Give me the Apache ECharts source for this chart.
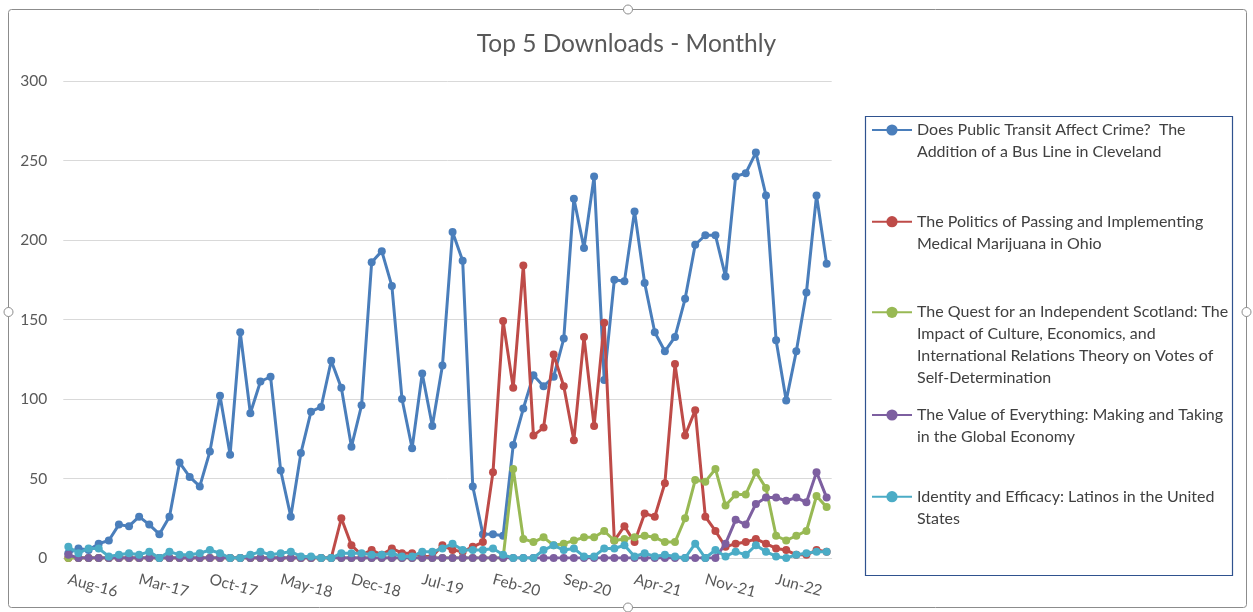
<!DOCTYPE html>
<html>
<head>
<meta charset="utf-8">
<script src="https://cdn.jsdelivr.net/npm/echarts@6/dist/echarts.min.js"></script>
<style>
html,body{margin:0;padding:0;background:#fff;}
#chart{width:1253px;height:612px;}
</style>
</head>
<body>
<div id="chart"></div>
<script>
const categories = [
 "Aug-16","Sep-16","Oct-16","Nov-16","Dec-16",
 "Jan-17","Feb-17","Mar-17","Apr-17","May-17","Jun-17","Jul-17","Aug-17","Sep-17","Oct-17","Nov-17","Dec-17",
 "Jan-18","Feb-18","Mar-18","Apr-18","May-18","Jun-18","Jul-18","Aug-18","Sep-18","Oct-18","Nov-18","Dec-18",
 "Jan-19","Feb-19","Mar-19","Apr-19","May-19","Jun-19","Jul-19","Aug-19","Sep-19","Oct-19","Nov-19","Dec-19",
 "Jan-20","Feb-20","Mar-20","Apr-20","May-20","Jun-20","Jul-20","Aug-20","Sep-20","Oct-20","Nov-20","Dec-20",
 "Jan-21","Feb-21","Mar-21","Apr-21","May-21","Jun-21","Jul-21","Aug-21","Sep-21","Oct-21","Nov-21","Dec-21",
 "Jan-22","Feb-22","Mar-22","Apr-22","May-22","Jun-22","Jul-22","Aug-22","Sep-22","Oct-22","Nov-22"
];

const seriesNames = [
 "Does Public Transit Affect Crime?  The Addition of a Bus Line in Cleveland",
 "The Politics of Passing and Implementing Medical Marijuana in Ohio",
 "The Quest for an Independent Scotland: The Impact of Culture, Economics, and International Relations Theory on Votes of Self-Determination",
 "The Value of Everything: Making and Taking in the Global Economy",
 "Identity and Efficacy: Latinos in the United States"
];

const legendLines = [
 ["Does Public Transit Affect Crime?  The", "Addition of a Bus Line in Cleveland"],
 ["The Politics of Passing and Implementing", "Medical Marijuana in Ohio"],
 ["The Quest for an Independent Scotland: The", "Impact of Culture, Economics, and", "International Relations Theory on Votes of", "Self-Determination"],
 ["The Value of Everything: Making and Taking", "in the Global Economy"],
 ["Identity and Efficacy: Latinos in the United", "States"]
];

const transitData = [3,6,5,9,11,21,20,26,21,15,26,60,51,45,67,102,65,142,91,111,
 114,55,26,66,92,95,124,107,70,96,186,193,171,100,69,116,83,121,205,187,
 45,15,15,14,71,94,115,108,114,138,226,195,240,112,175,174,218,173,142,130,
 139,163,197,203,203,177,240,242,255,228,137,99,130,167,228,185];

const marijuanaData = [0,0,0,0,0,0,0,0,0,0,0,0,0,0,0,0,0,0,0,0,
 0,0,0,0,0,0,0,25,8,2,5,2,6,3,3,1,1,8,5,4,
 7,10,54,149,107,184,77,82,128,108,74,139,83,148,11,20,10,28,26,47,
 122,77,93,26,17,7,9,10,12,9,6,5,2,2,5,4];

const scotlandData = [0,0,0,0,0,0,0,0,0,0,0,0,0,0,0,0,0,0,0,0,
 0,0,0,0,0,0,0,0,0,0,0,0,0,0,0,0,0,0,0,0,
 0,0,0,0,56,12,10,13,8,9,11,13,13,17,11,12,13,14,13,10,
 10,25,49,48,56,33,40,40,54,44,14,11,14,17,39,32];

const valueData = [2,0,0,0,0,0,0,0,0,0,0,0,0,0,0,0,0,0,0,0,
 0,0,0,0,0,0,0,0,0,0,0,0,0,0,0,0,0,0,0,0,
 0,0,0,0,0,0,0,0,0,0,0,0,0,0,0,0,0,0,0,0,
 0,0,0,0,0,9,24,21,34,38,38,36,38,35,54,38];

const latinosData = [7,3,6,6,1,2,3,2,4,0,4,2,2,3,5,3,0,0,2,4,
 2,3,4,1,1,0,0,3,3,3,2,2,3,1,1,4,4,6,9,5,
 5,5,6,2,0,0,0,5,8,5,6,1,1,6,6,8,1,3,1,2,
 1,0,9,0,5,1,4,2,8,4,1,0,2,3,4,4];

const yTicks = [0, 50, 100, 150, 200, 250, 300];

const colors = ["#4A7EBB", "#BE4B48", "#98B954", "#7D5FA0", "#4BACC6"];
const allData = [transitData, marijuanaData, scotlandData, valueData, latinosData];

const FONT = "Lato";
const LH = 21.7;
const legendCenters = [130, 221.7, 312.3, 415, 496.7];

const chart = echarts.init(document.getElementById('chart'), null, {renderer: 'canvas'});

const legends = seriesNames.map((name, k) => {
  const n = legendLines[k].length;
  const blank = new Array(n - 1).fill(' ');
  return {
    data: [name],
    orient: 'vertical',
    left: 871,
    top: legendCenters[k] - (2 * n - 1) * LH / 2,
    padding: 0,
    itemWidth: 40,
    itemHeight: 14,
    selectedMode: false,
    formatter: () => blank.concat(legendLines[k]).join('\n'),
    textStyle: {
      fontFamily: FONT,
      fontSize: 16,
      color: '#404040',
      lineHeight: LH
    }
  };
});

const series = seriesNames.map((name, k) => ({
  name: name,
  type: 'line',
  data: allData[k],
  symbol: 'circle',
  symbolSize: 8,
  showSymbol: true,
  showAllSymbol: true,
  lineStyle: {width: 3, color: colors[k]},
  itemStyle: {color: colors[k]},
  emphasis: {disabled: true},
  animation: false,
  z: 2 + k
}));

const option = {
  animation: false,
  title: {
    text: 'Top 5 Downloads - Monthly',
    left: 'center',
    top: 27,
    textStyle: {fontFamily: FONT, fontSize: 24.5, fontWeight: 'normal', color: '#595959'}
  },
  legend: legends,
  grid: {left: 63.3, right: 421.3, top: 81, bottom: 54, containLabel: false},
  xAxis: {
    type: 'category',
    data: categories,
    boundaryGap: true,
    axisLine: {show: true, lineStyle: {color: '#d9d9d9', width: 1}},
    axisTick: {show: false},
    axisLabel: {
      interval: 6,
      rotate: -15,
      margin: 21,
      fontFamily: FONT,
      fontSize: 15.5,
      color: '#595959'
    }
  },
  yAxis: {
    type: 'value',
    min: yTicks[0],
    max: yTicks[yTicks.length - 1],
    interval: yTicks[1] - yTicks[0],
    axisLine: {show: false},
    axisTick: {show: false},
    splitLine: {lineStyle: {color: '#d9d9d9', width: 1}},
    axisLabel: {margin: 16, fontFamily: FONT, fontSize: 15.5, color: '#595959'}
  },
  graphic: [
    {type: 'rect', shape: {x: 8.5, y: 9.5, width: 1238, height: 598, r: 3}, style: {fill: 'none', stroke: '#8c8c8c', lineWidth: 1}, silent: true, z: -1},
    {type: 'rect', shape: {x: 865.5, y: 116.5, width: 367, height: 459}, style: {fill: 'none', stroke: '#2F528F', lineWidth: 1.2}, silent: true},
    {type: 'circle', shape: {cx: 628, cy: 9.5, r: 4.5}, style: {fill: '#fff', stroke: '#8c8c8c', lineWidth: 1}, silent: true},
    {type: 'circle', shape: {cx: 628, cy: 607.5, r: 4.5}, style: {fill: '#fff', stroke: '#8c8c8c', lineWidth: 1}, silent: true},
    {type: 'circle', shape: {cx: 8.5, cy: 312, r: 4.5}, style: {fill: '#fff', stroke: '#8c8c8c', lineWidth: 1}, silent: true},
    {type: 'circle', shape: {cx: 1246.5, cy: 312, r: 4.5}, style: {fill: '#fff', stroke: '#8c8c8c', lineWidth: 1}, silent: true}
  ],
  series: series
};

chart.setOption(option);
</script>
</body>
</html>
